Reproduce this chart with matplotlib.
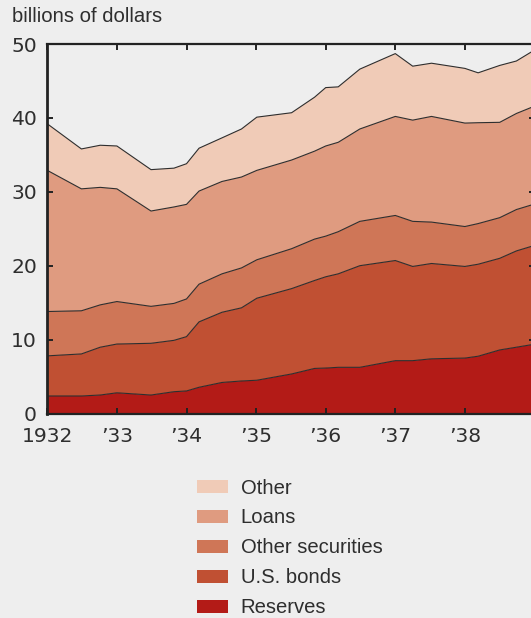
import numpy as np
import matplotlib
matplotlib.use("Agg")
import matplotlib.pyplot as plt
from matplotlib.patches import Patch

# call-report dates (decimal years) and holdings, billions of dollars
dates = [1932.0, 1932.49, 1932.76, 1933.0, 1933.49, 1933.82, 1934.0, 1934.18,
         1934.51, 1934.79, 1935.01, 1935.51, 1935.84, 1936.0, 1936.18, 1936.49,
         1937.0, 1937.25, 1937.52, 1938.0, 1938.19, 1938.5, 1938.74, 1938.95]
reserves = [2.37, 2.37, 2.5, 2.8, 2.5, 2.95, 3.05, 3.55, 4.2, 4.4, 4.5, 5.35,
            6.1, 6.15, 6.25, 6.25, 7.15, 7.15, 7.4, 7.5, 7.75, 8.6, 8.97, 9.3]
us_bonds = [5.43, 5.69, 6.47, 6.6, 7.0, 6.95, 7.35, 8.85, 9.5, 9.9, 11.1, 11.55,
            11.9, 12.35, 12.65, 13.75, 13.55, 12.75, 12.9, 12.4, 12.45, 12.4, 13.03, 13.3]
other_sec = [6.0, 5.84, 5.73, 5.75, 5.0, 5.0, 5.1, 5.1, 5.2, 5.4, 5.2, 5.4,
             5.6, 5.5, 5.7, 6.0, 6.1, 6.1, 5.6, 5.4, 5.5, 5.5, 5.6, 5.6]
loans = [19.1, 16.5, 15.9, 15.25, 12.9, 13.05, 12.8, 12.6, 12.5, 12.3, 12.1, 12.0,
         11.9, 12.2, 12.1, 12.5, 13.4, 13.7, 14.3, 14.0, 13.65, 12.9, 13.0, 13.2]
other = [6.3, 5.4, 5.7, 5.8, 5.6, 5.25, 5.5, 5.8, 5.9, 6.5, 7.2, 6.4,
         7.3, 7.9, 7.5, 8.1, 8.5, 7.3, 7.2, 7.4, 6.75, 7.7, 7.1, 7.5]

series_names = ["Reserves", "U.S. bonds", "Other securities", "Loans", "Other"]
series_colors = ["#b31b17", "#c05033", "#cf7657", "#df9b80", "#f0cbb7"]
year_ticks = [1932, 1933, 1934, 1935, 1936, 1937, 1938]
year_labels = ["1932", "\u201933", "\u201934", "\u201935", "\u201936", "\u201937", "\u201938"]

bg = "#eeeeee"
ink = "#2e2e2e"

fig = plt.figure(figsize=(5.31, 6.18), dpi=100, facecolor=bg)
ax = fig.add_axes([47.3 / 531, 204.5 / 618, 487.2 / 531, 369.5 / 618], facecolor=bg)

layers = [reserves, us_bonds, other_sec, loans, other]
ax.stackplot(dates, layers, colors=series_colors, linewidth=0, zorder=1)
tops = np.cumsum(np.array(layers), axis=0)
for top in tops:
    ax.plot(dates, top, color=ink, linewidth=0.8, zorder=2)

ax.set_xlim(1932, 1939)
ax.set_ylim(0, 50)
ax.set_xticks(year_ticks)
ax.set_xticklabels(year_labels, fontsize=14.6, family="DejaVu Sans", color=ink)
ax.set_yticks([0, 10, 20, 30, 40, 50])
ax.set_yticklabels(["0", "10", "20", "30", "40", "50"], fontsize=14.6,
                   family="DejaVu Sans", color=ink)
ax.tick_params(axis="both", direction="in", length=4.3, width=1.4, color="#222222",
               top=True, right=True)
ax.tick_params(axis="x", pad=10)
ax.tick_params(axis="y", pad=7.5)

for side, lw in [("left", 2.0), ("top", 1.6), ("bottom", 1.6), ("right", 1.6)]:
    ax.spines[side].set_linewidth(lw)
    ax.spines[side].set_color("#222222")

fig.text(12 / 531, 1 - 17 / 618, "billions of dollars", fontsize=14.6,
         family="Liberation Sans", color=ink, va="center", ha="left")

handles = [Patch(facecolor=c, edgecolor="none") for c in series_colors[::-1]]
fig.legend(handles, series_names[::-1], loc="upper left",
           bbox_to_anchor=(196.5 / 531, 1 - 478.5 / 618), frameon=False,
           prop={"family": "Liberation Sans", "size": 14.6}, labelcolor=ink,
           handlelength=1.55, handleheight=0.6, handletextpad=0.62,
           labelspacing=0.54, borderpad=0, borderaxespad=0)

fig.savefig("out.png", dpi=100, facecolor=bg)
